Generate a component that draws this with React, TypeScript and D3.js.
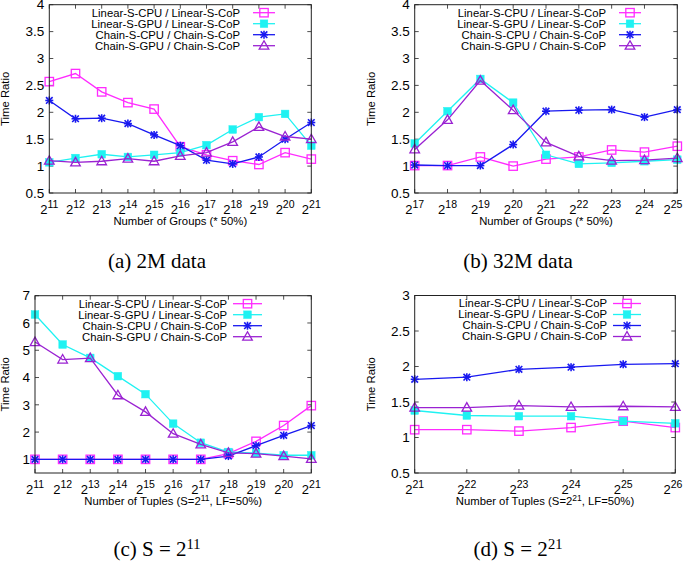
import React from "react";
import * as d3 from "d3";

const SERIES_NAMES = [
  "Linear-S-CPU / Linear-S-CoP",
  "Linear-S-GPU / Linear-S-CoP",
  "Chain-S-CPU / Chain-S-CoP",
  "Chain-S-GPU / Chain-S-CoP",
];
const SERIES_COLORS = ["#ff2bff", "#1ff2f2", "#1818f0", "#9a22d2"];
const SERIES_MARKERS = ["openSquare", "filledSquare", "star", "openTriangle"];

// (a) 2M data
const A_EXP = [11, 12, 13, 14, 15, 16, 17, 18, 19, 20, 21];
const A_LIN_CPU = [2.57, 2.72, 2.38, 2.18, 2.06, 1.36, 1.21, 1.1, 1.03, 1.25, 1.13];
const A_LIN_GPU = [1.07, 1.15, 1.22, 1.17, 1.21, 1.25, 1.39, 1.68, 1.91, 1.97, 1.38];
const A_CHN_CPU = [2.22, 1.88, 1.89, 1.79, 1.58, 1.38, 1.11, 1.04, 1.17, 1.5, 1.81];
const A_CHN_GPU = [1.1, 1.07, 1.09, 1.14, 1.09, 1.19, 1.25, 1.45, 1.73, 1.55, 1.5];

// (b) 32M data
const B_EXP = [17, 18, 19, 20, 21, 22, 23, 24, 25];
const B_LIN_CPU = [1.01, 1.01, 1.17, 1.0, 1.13, 1.17, 1.3, 1.26, 1.37];
const B_LIN_GPU = [1.42, 2.02, 2.62, 2.18, 1.21, 1.04, 1.06, 1.09, 1.12];
const B_CHN_CPU = [1.02, 1.01, 1.01, 1.4, 2.02, 2.04, 2.05, 1.91, 2.05];
const B_CHN_GPU = [1.31, 1.86, 2.59, 2.04, 1.44, 1.18, 1.1, 1.11, 1.15];

// (c) S = 2^11
const C_EXP = [11, 12, 13, 14, 15, 16, 17, 18, 19, 20, 21];
const C_LIN_CPU = [1, 1, 1, 1, 1, 1, 1, 1.21, 1.66, 2.24, 2.97];
const C_LIN_GPU = [6.31, 5.21, 4.72, 4.05, 3.39, 2.31, 1.61, 1.27, 1.23, 1.15, 1.15];
const C_CHN_CPU = [1, 1, 1, 1, 1, 1, 1, 1.12, 1.5, 1.88, 2.24];
const C_CHN_GPU = [5.3, 4.66, 4.71, 3.35, 2.74, 1.94, 1.55, 1.24, 1.21, 1.12, 1.02];

// (d) S = 2^21
const D_EXP = [21, 22, 23, 24, 25, 26];
const D_LIN_CPU = [1.11, 1.11, 1.09, 1.14, 1.23, 1.14];
const D_LIN_GPU = [1.38, 1.31, 1.3, 1.3, 1.23, 1.2];
const D_CHN_CPU = [1.82, 1.85, 1.96, 1.99, 2.03, 2.04];
const D_CHN_GPU = [1.42, 1.42, 1.45, 1.43, 1.44, 1.43];

const Y_TICKS_AB = [0.5, 1, 1.5, 2, 2.5, 3, 3.5, 4];
const Y_TICKS_C = [1, 2, 3, 4, 5, 6, 7];
const Y_TICKS_D = [0.5, 1, 1.5, 2, 2.5, 3];

const X_TITLES = [
  { pre: "Number of Groups (* 50%)", sup: "", post: "" },
  { pre: "Number of Groups (* 50%)", sup: "", post: "" },
  { pre: "Number of Tuples (S=2", sup: "11", post: ", LF=50%)" },
  { pre: "Number of Tuples (S=2", sup: "21", post: ", LF=50%)" },
];
const CAPTIONS = [
  { pre: "(a) 2M data", sup: "" },
  { pre: "(b) 32M data", sup: "" },
  { pre: "(c) S = 2", sup: "11" },
  { pre: "(d) S = 2", sup: "21" },
];

const SANS = "'Liberation Sans', Arial, sans-serif";
const SERIF = "'Liberation Serif', 'DejaVu Serif', serif";

type PanelCfg = {
  left: number; right: number; top: number; bottom: number;
  yDomain: [number, number]; yTicks: number[];
  exps: number[]; series: number[][];
  keyTextRight: number; keyX1: number; keyX2: number;
  yTitleX: number; xTitleY: number;
  capX: number; capY: number; idx: number;
};

function Marker({ type, x, y, color }: { type: string; x: number; y: number; color: string }) {
  const s = 4.2;
  if (type === "openSquare")
    return <rect x={x - s} y={y - s} width={2 * s} height={2 * s} fill="none" stroke={color} strokeWidth={1.3} />;
  if (type === "filledSquare")
    return <rect x={x - 3.8} y={y - 3.8} width={7.6} height={7.6} fill={color} stroke={color} strokeWidth={0.5} />;
  if (type === "star")
    return (
      <g stroke={color} strokeWidth={1.6}>
        <line x1={x - 4} x2={x + 4} y1={y} y2={y} />
        <line x1={x} x2={x} y1={y - 4} y2={y + 4} />
        <line x1={x - 3.3} x2={x + 3.3} y1={y - 3.3} y2={y + 3.3} />
        <line x1={x - 3.3} x2={x + 3.3} y1={y + 3.3} y2={y - 3.3} />
      </g>
    );
  const p = [
    [x, y - 5],
    [x - 4.8, y + 3.5],
    [x + 4.8, y + 3.5],
  ];
  return <polygon points={p.map((q) => q.join(",")).join(" ")} fill="none" stroke={color} strokeWidth={1.3} />;
}

function Panel({ cfg }: { cfg: PanelCfg }) {
  const x = d3.scaleLinear().domain([cfg.exps[0], cfg.exps[cfg.exps.length - 1]]).range([cfg.left, cfg.right]);
  const y = d3.scaleLinear().domain(cfg.yDomain).range([cfg.bottom, cfg.top]);
  const line = d3
    .line<number>()
    .x((_, i) => x(cfg.exps[i]))
    .y((v) => y(v));
  const tl = 4;
  const border = "#222";
  const xt = X_TITLES[cfg.idx];
  const cap = CAPTIONS[cfg.idx];
  const midX = (cfg.left + cfg.right) / 2;
  const midY = (cfg.top + cfg.bottom) / 2;
  const labelHalf = 10;
  return (
    <g>
      {/* ticks */}
      {cfg.exps.map((e) => (
        <g key={"xt" + e} stroke={border} strokeWidth={0.8}>
          <line x1={x(e)} x2={x(e)} y1={cfg.bottom} y2={cfg.bottom - tl} />
          <line x1={x(e)} x2={x(e)} y1={cfg.top} y2={cfg.top + tl} />
        </g>
      ))}
      {cfg.yTicks.map((t) => (
        <g key={"yt" + t} stroke={border} strokeWidth={0.8}>
          <line x1={cfg.left} x2={cfg.left + tl} y1={y(t)} y2={y(t)} />
          <line x1={cfg.right} x2={cfg.right - tl} y1={y(t)} y2={y(t)} />
        </g>
      ))}
      {/* tick labels */}
      {cfg.exps.map((e) => {
        const cx = Math.min(x(e), 683 - labelHalf);
        return (
          <text key={"xl" + e} x={cx} y={cfg.bottom + 21} textAnchor="middle" fontFamily={SANS} fontSize={13} fill="#000">
            <tspan>2</tspan>
            <tspan dy={-6.5} fontSize={10.5}>{e}</tspan>
          </text>
        );
      })}
      {cfg.yTicks.map((t) => (
        <text key={"yl" + t} x={cfg.left - 5} y={y(t)} dy="0.35em" textAnchor="end" fontFamily={SANS} fontSize={13.5} fill="#000">
          {String(t)}
        </text>
      ))}
      {/* axis titles */}
      <text x={midX} y={cfg.xTitleY} textAnchor="middle" fontFamily={SANS} fontSize={11.3} fill="#000">
        <tspan>{xt.pre}</tspan>
        {xt.sup ? <tspan dy={-4.5} fontSize={8.5}>{xt.sup}</tspan> : null}
        {xt.sup ? <tspan dy={4.5}>{xt.post}</tspan> : null}
      </text>
      <text
        transform={`translate(${cfg.yTitleX},${midY}) rotate(-90)`}
        textAnchor="middle"
        dy="0.35em"
        fontFamily={SANS}
        fontSize={11.3}
        fill="#000"
      >
        Time Ratio
      </text>
      {/* series */}
      {cfg.series.map((vals, si) => (
        <g key={"s" + si}>
          <path d={line(vals) || ""} fill="none" stroke={SERIES_COLORS[si]} strokeWidth={1.3} />
          {vals.map((v, i) => (
            <Marker key={i} type={SERIES_MARKERS[si]} x={x(cfg.exps[i])} y={y(v)} color={SERIES_COLORS[si]} />
          ))}
        </g>
      ))}
      {/* legend */}
      {SERIES_NAMES.map((n, si) => {
        const ky = cfg.top + 8 + si * 11;
        return (
          <g key={"k" + si}>
            <text x={cfg.keyTextRight} y={ky} dy="0.35em" textAnchor="end" fontFamily={SANS} fontSize={11.3} fill="#000">
              {n}
            </text>
            <line x1={cfg.keyX1} x2={cfg.keyX2} y1={ky} y2={ky} stroke={SERIES_COLORS[si]} strokeWidth={1.3} />
            <Marker type={SERIES_MARKERS[si]} x={(cfg.keyX1 + cfg.keyX2) / 2} y={ky} color={SERIES_COLORS[si]} />
          </g>
        );
      })}
      {/* border */}
      <rect
        x={cfg.left}
        y={cfg.top}
        width={cfg.right - cfg.left}
        height={cfg.bottom - cfg.top}
        fill="none"
        stroke={border}
        strokeWidth={1}
      />
      {/* caption */}
      <text x={cfg.capX} y={cfg.capY} textAnchor="middle" fontFamily={SERIF} fontSize={21} fill="#000">
        <tspan>{cap.pre}</tspan>
        {cap.sup ? <tspan dy={-7.5} fontSize={14.5}>{cap.sup}</tspan> : null}
      </text>
    </g>
  );
}

export default function App() {
  const panels: PanelCfg[] = [
    {
      idx: 0, left: 49.3, right: 311.3, top: 4.7, bottom: 193,
      yDomain: [0.5, 4], yTicks: Y_TICKS_AB, exps: A_EXP,
      series: [A_LIN_CPU, A_LIN_GPU, A_CHN_CPU, A_CHN_GPU],
      keyTextRight: 240, keyX1: 253, keyX2: 275,
      yTitleX: 5, xTitleY: 224.5, capX: 157, capY: 268,
    },
    {
      idx: 1, left: 414.7, right: 677.3, top: 4.7, bottom: 193,
      yDomain: [0.5, 4], yTicks: Y_TICKS_AB, exps: B_EXP,
      series: [B_LIN_CPU, B_LIN_GPU, B_CHN_CPU, B_CHN_GPU],
      keyTextRight: 606, keyX1: 619, keyX2: 641,
      yTitleX: 371, xTitleY: 224.5, capX: 518, capY: 268,
    },
    {
      idx: 2, left: 35, right: 311.3, top: 295.7, bottom: 473,
      yDomain: [0.5, 7], yTicks: Y_TICKS_C, exps: C_EXP,
      series: [C_LIN_CPU, C_LIN_GPU, C_CHN_CPU, C_CHN_GPU],
      keyTextRight: 227, keyX1: 233, keyX2: 262,
      yTitleX: 5, xTitleY: 505, capX: 157, capY: 556,
    },
    {
      idx: 3, left: 414.7, right: 675.3, top: 295.5, bottom: 473,
      yDomain: [0.5, 3], yTicks: Y_TICKS_D, exps: D_EXP,
      series: [D_LIN_CPU, D_LIN_GPU, D_CHN_CPU, D_CHN_GPU],
      keyTextRight: 607, keyX1: 613, keyX2: 641,
      yTitleX: 371, xTitleY: 505, capX: 518, capY: 556,
    },
  ];
  return (
    <svg width={685} height={561} style={{ position: "absolute", left: 0, top: 0, background: "#fff" }}>
      <rect x={0} y={0} width={685} height={561} fill="#fff" />
      {panels.map((p) => (
        <Panel key={p.idx} cfg={p} />
      ))}
    </svg>
  );
}
